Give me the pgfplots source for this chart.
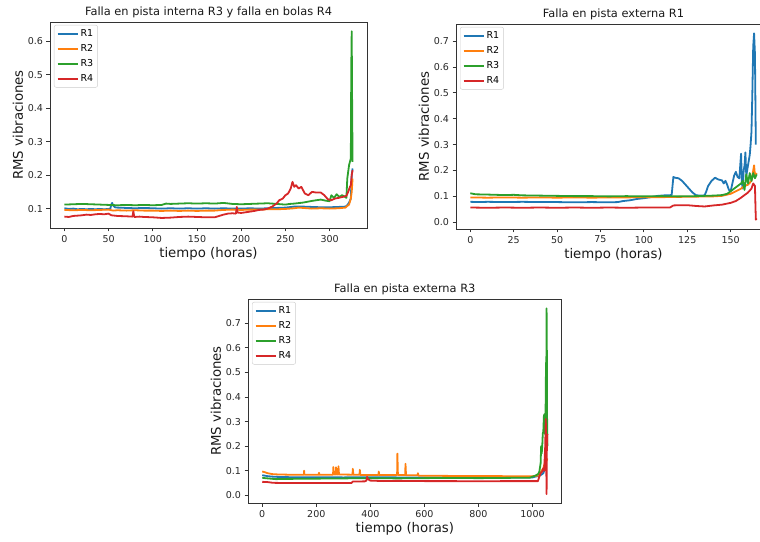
\documentclass[border=0pt]{standalone}
\usepackage{fontspec}
\setmainfont{DejaVu Sans}
\usepackage{pgfplots}
\pgfplotsset{compat=1.18}
\definecolor{cA}{HTML}{1F77B4}
\definecolor{cB}{HTML}{FF7F0E}
\definecolor{cC}{HTML}{2CA02C}
\definecolor{cD}{HTML}{D62728}
\pgfplotsset{
  myax/.style={
    scale only axis, anchor=south west,
    axis line style={black!80, line width=0.8pt},
    tick align=outside, xtick pos=bottom, ytick pos=left,
    major tick length=3.5pt, tick style={black!80, line width=0.8pt},
    ticklabel style={font=\fontsize{9.5}{10}\selectfont, text=black!85},
    /pgf/number format/assume math mode=true,
    /pgf/number format/1000 sep={},
    yticklabel style={/pgf/number format/fixed, /pgf/number format/precision=1, /pgf/number format/fixed zerofill},
    xlabel={tiempo (horas)}, ylabel={RMS vibraciones},
    label style={font=\fontsize{13.3}{15}\selectfont, text=black!90},
    xlabel style={yshift=2pt},
    ylabel style={yshift=-2pt},
    title style={font=\fontsize{11.4}{13}\selectfont, text=black!90, yshift=-5pt},
    every axis plot/.append style={line width=1.8pt, line join=round, no markers},
    legend cell align=left,
    legend style={at={(0,1)}, anchor=north west, xshift=4pt, yshift=-3pt,
      draw=black!20, rounded corners=2pt, fill=white, fill opacity=0.8, text opacity=1,
      font=\fontsize{9.5}{10}\selectfont, row sep=2.4pt, inner sep=2.5pt},
    legend image code/.code={\draw[#1, line width=1.8pt] (0pt,0pt) -- (20pt,0pt);},
  }
}
\begin{document}
\begin{tikzpicture}
\path[use as bounding box] (0pt,0pt) rectangle (760pt,541pt);
% ---------------- Chart 1 ----------------
\begin{axis}[myax, at={(50pt,313pt)}, width=317pt, height=206pt,
  xmin=-16.3, xmax=342.3, ymin=0.042, ymax=0.658,
  xtick={0,50,...,300}, ytick={0.1,0.2,...,0.61},
  title={Falla en pista interna R3 y falla en bolas R4}]
\addplot[cA] coordinates {(0,0.101)(5,0.099)(10,0.100)(15,0.098)(20,0.099)(25,0.098)(30,0.099)(35,0.098)(40,0.099)(45,0.098)(50,0.099)(52,0.100)(53,0.112)(54,0.117)(55,0.110)(57,0.104)(60,0.103)(70,0.102)(80,0.101)(90,0.102)(100,0.101)(110,0.100)(120,0.101)(130,0.100)(140,0.101)(150,0.100)(160,0.101)(170,0.100)(180,0.101)(190,0.100)(200,0.100)(210,0.101)(220,0.100)(230,0.101)(240,0.102)(250,0.103)(260,0.106)(270,0.106)(280,0.105)(290,0.104)(300,0.104)(310,0.105)(318,0.106)(320,0.110)(322,0.118)(324,0.130)(325,0.200)(326,0.220)};
\addplot[cB] coordinates {(0,0.096)(10,0.095)(20,0.096)(30,0.095)(40,0.096)(50,0.097)(55,0.094)(60,0.095)(70,0.094)(80,0.095)(90,0.094)(100,0.094)(110,0.093)(120,0.094)(130,0.093)(140,0.094)(150,0.093)(160,0.094)(170,0.094)(180,0.096)(190,0.097)(200,0.096)(210,0.097)(220,0.097)(230,0.098)(240,0.098)(250,0.099)(260,0.101)(265,0.103)(270,0.102)(280,0.100)(290,0.101)(300,0.100)(310,0.101)(318,0.103)(320,0.108)(322,0.112)(324,0.130)(325,0.150)(326,0.190)};
\addplot[cC] coordinates {(0,0.112)(10,0.113)(20,0.114)(30,0.113)(40,0.112)(50,0.111)(60,0.110)(70,0.111)(80,0.110)(90,0.111)(100,0.110)(110,0.111)(115,0.115)(120,0.114)(130,0.115)(140,0.116)(150,0.115)(160,0.116)(170,0.115)(180,0.117)(190,0.114)(200,0.113)(210,0.114)(220,0.115)(230,0.116)(240,0.114)(250,0.112)(255,0.114)(260,0.115)(270,0.118)(280,0.123)(290,0.127)(295,0.124)(300,0.122)(302,0.140)(305,0.132)(308,0.143)(311,0.135)(314,0.140)(317,0.136)(319,0.132)(320,0.190)(321,0.210)(322,0.230)(323,0.240)(324,0.250)(324.5,0.520)(325,0.630)(325.5,0.400)(326,0.240)};
\addplot[cD] coordinates {(0,0.076)(5,0.075)(10,0.078)(15,0.079)(20,0.080)(25,0.082)(30,0.081)(35,0.083)(40,0.084)(45,0.083)(50,0.085)(53,0.080)(60,0.078)(70,0.077)(77,0.076)(78,0.092)(79,0.075)(85,0.076)(90,0.075)(100,0.074)(110,0.072)(120,0.073)(130,0.075)(140,0.076)(150,0.075)(160,0.074)(170,0.074)(175,0.078)(180,0.082)(185,0.085)(190,0.086)(194,0.085)(195,0.105)(196,0.088)(200,0.087)(210,0.091)(215,0.093)(220,0.096)(225,0.097)(230,0.100)(235,0.106)(240,0.115)(243,0.125)(247,0.130)(250,0.140)(253,0.145)(256,0.160)(258,0.180)(260,0.165)(262,0.170)(265,0.160)(268,0.165)(272,0.145)(276,0.140)(280,0.150)(285,0.148)(290,0.148)(294,0.140)(298,0.128)(302,0.125)(306,0.130)(310,0.132)(315,0.135)(319,0.138)(321,0.150)(323,0.165)(324,0.170)(325,0.200)(326,0.215)};
\legend{R1,R2,R3,R4}
\end{axis}
% ---------------- Chart 2 ----------------
\begin{axis}[myax, at={(456pt,312pt)}, width=315pt, height=205pt,
  xmin=-8.25, xmax=173.25, ymin=-0.026, ymax=0.766,
  xtick={0,25,...,150}, ytick={0,0.1,...,0.71},
  title={Falla en pista externa R1}]
\addplot[cA] coordinates {(0,0.079)(5,0.078)(10,0.079)(20,0.078)(30,0.079)(40,0.078)(50,0.078)(60,0.077)(70,0.078)(80,0.077)(85,0.078)(88,0.082)(92,0.085)(96,0.090)(100,0.093)(104,0.097)(108,0.102)(112,0.104)(116,0.105)(117,0.175)(118,0.172)(120,0.170)(122,0.160)(124,0.145)(126,0.130)(128,0.115)(130,0.105)(132,0.103)(135,0.104)(136,0.120)(137,0.140)(139,0.160)(141,0.172)(143,0.165)(145,0.162)(146,0.150)(147,0.160)(148,0.145)(149,0.125)(150,0.120)(151,0.150)(152,0.180)(153,0.195)(154,0.175)(155,0.170)(156,0.265)(156.5,0.150)(157,0.130)(157.5,0.200)(158,0.220)(158.5,0.270)(159,0.180)(160,0.220)(161,0.260)(161.5,0.300)(162,0.350)(162.5,0.500)(163,0.680)(163.5,0.730)(164,0.650)(164.5,0.300)};
\addplot[cB] coordinates {(0,0.096)(10,0.095)(20,0.096)(30,0.095)(40,0.096)(50,0.095)(60,0.096)(70,0.095)(80,0.096)(90,0.096)(100,0.097)(110,0.097)(120,0.098)(130,0.099)(140,0.100)(145,0.102)(150,0.110)(153,0.120)(156,0.130)(158,0.140)(160,0.145)(162,0.160)(163,0.200)(163.5,0.220)(164,0.180)(165,0.190)};
\addplot[cC] coordinates {(0,0.112)(3,0.108)(10,0.107)(20,0.105)(25,0.106)(30,0.104)(40,0.103)(50,0.102)(60,0.101)(70,0.101)(80,0.100)(90,0.101)(100,0.100)(110,0.101)(120,0.100)(130,0.101)(140,0.103)(145,0.105)(148,0.110)(151,0.125)(154,0.140)(156,0.150)(157,0.160)(158,0.125)(159,0.185)(160,0.150)(161,0.190)(162,0.160)(163,0.190)(164,0.170)(165,0.185)};
\addplot[cD] coordinates {(0,0.057)(10,0.056)(20,0.057)(30,0.056)(40,0.057)(50,0.056)(60,0.057)(70,0.056)(80,0.057)(90,0.056)(100,0.057)(110,0.057)(115,0.057)(117,0.065)(120,0.066)(125,0.066)(130,0.063)(135,0.061)(140,0.065)(145,0.068)(150,0.075)(153,0.082)(156,0.095)(158,0.105)(160,0.115)(162,0.130)(163,0.150)(164,0.140)(164.5,0.010)(165,0.015)};
\legend{R1,R2,R3,R4}
\end{axis}
% ---------------- Chart 3 ----------------
\begin{axis}[myax, at={(248pt,38pt)}, width=313.7pt, height=204pt,
  xmin=-52.7, xmax=1108, ymin=-0.031, ymax=0.798,
  xtick={0,200,...,1000}, ytick={0,0.1,...,0.71},
  title={Falla en pista externa R3}]
\addplot[cA] coordinates {(0,0.082)(10,0.080)(20,0.078)(40,0.076)(60,0.075)(100,0.074)(200,0.074)(300,0.073)(400,0.074)(500,0.073)(600,0.073)(700,0.073)(800,0.073)(900,0.073)(1000,0.073)(1010,0.076)(1020,0.078)(1030,0.082)(1040,0.090)(1050,0.120)};
\addplot[cB] coordinates {(0,0.097)(10,0.094)(20,0.090)(40,0.086)(60,0.085)(100,0.084)(154,0.084)(155,0.100)(156,0.084)(209,0.084)(210,0.092)(211,0.084)(262,0.084)(263,0.115)(265,0.085)(272,0.085)(273,0.114)(275,0.085)(281,0.085)(282,0.118)(284,0.085)(334,0.084)(335,0.108)(337,0.084)(360,0.084)(361,0.104)(363,0.083)(430,0.083)(431,0.097)(433,0.083)(499,0.083)(500,0.170)(502,0.083)(529,0.083)(530,0.128)(532,0.082)(575,0.082)(576,0.090)(578,0.080)(600,0.080)(700,0.079)(800,0.079)(900,0.078)(1000,0.078)(1020,0.080)(1030,0.095)(1040,0.110)(1045,0.130)(1050,0.150)(1052,0.140)(1055,0.150)};
\addplot[cC] coordinates {(0,0.072)(10,0.070)(30,0.068)(50,0.066)(100,0.067)(200,0.068)(300,0.069)(400,0.070)(500,0.069)(600,0.070)(700,0.071)(800,0.070)(900,0.071)(990,0.072)(1000,0.076)(1010,0.080)(1020,0.086)(1025,0.095)(1030,0.130)(1032,0.200)(1034,0.170)(1036,0.200)(1038,0.250)(1040,0.260)(1042,0.320)(1044,0.330)(1046,0.250)(1048,0.300)(1050,0.540)(1051,0.450)(1052,0.760)(1053,0.600)(1054,0.300)(1055,0.200)};
\addplot[cD] coordinates {(0,0.055)(20,0.054)(40,0.051)(100,0.050)(200,0.050)(300,0.050)(330,0.050)(335,0.056)(380,0.057)(385,0.060)(388,0.075)(392,0.065)(400,0.060)(450,0.058)(500,0.059)(600,0.058)(700,0.058)(800,0.057)(900,0.058)(1000,0.058)(1020,0.058)(1025,0.075)(1030,0.090)(1035,0.095)(1040,0.110)(1043,0.100)(1045,0.150)(1047,0.200)(1049,0.310)(1050,0.260)(1051,0.120)(1052,0.005)(1053,0.180)(1055,0.250)};
\legend{R1,R2,R3,R4}
\end{axis}
\end{tikzpicture}
\end{document}
